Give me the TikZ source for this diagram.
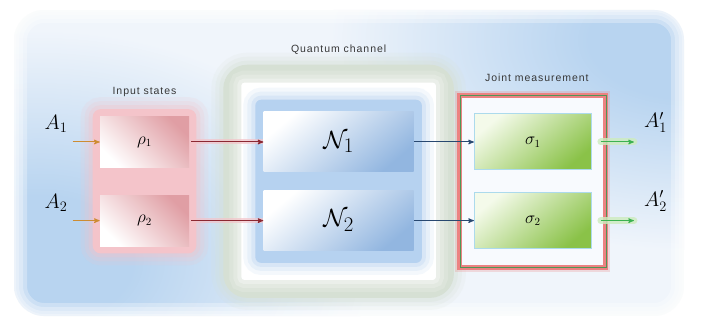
\documentclass[tikz,border=0pt]{standalone}
\usepackage{fontspec}
\newfontfamily\labelfont[LetterSpace=9]{Liberation Sans}
\usetikzlibrary{positioning, arrows, fit, backgrounds}

\definecolor{bgbase}{RGB}{240,245,251}
\definecolor{bgblue}{RGB}{184,212,240}
\definecolor{chgreen}{RGB}{214,224,212}
\definecolor{chblue}{RGB}{182,210,240}
\definecolor{nblue}{RGB}{146,182,224}
\definecolor{rhopink}{RGB}{224,158,164}
\definecolor{pinkglow}{RGB}{244,196,202}
\definecolor{sigmagreen}{RGB}{138,194,72}
\definecolor{sigmapale}{RGB}{244,250,234}
\definecolor{sigmaline}{RGB}{172,218,236}
\definecolor{framered}{RGB}{236,130,130}
\definecolor{framegreen}{RGB}{80,150,85}
\definecolor{arrowred}{RGB}{140,40,50}
\definecolor{arrowblue}{RGB}{40,72,112}
\definecolor{arrowgreen}{RGB}{60,178,80}
\definecolor{greenglow}{RGB}{205,236,190}
\definecolor{arroworange}{RGB}{205,140,50}
\definecolor{labelgray}{RGB}{55,55,55}

\pgfdeclareradialshading{blob}{\pgfpoint{0bp}{0bp}}{color(0bp)=(bgblue); color(7bp)=(bgblue);
    color(25bp)=(bgbase); color(50bp)=(bgbase)}

\begin{document}
\begin{tikzpicture}[x=1pt, y=-1pt, >=stealth', semithick, node distance=27pt,
        soft/.style={preaction={draw=#1, line width=24pt, opacity=.15},
                     preaction={draw=#1, line width=16pt, opacity=.2},
                     preaction={draw=#1, line width=8pt, opacity=.3}},
        rhobox/.style={shade, top color=rhopink, bottom color=white, shading angle=-45,
                       minimum width=89pt, minimum height=51pt, inner sep=0pt,
                       font=\fontsize{16}{16}\selectfont},
        chbox/.style={shade, top color=white, bottom color=nblue, shading angle=40,
                      minimum width=150pt, minimum height=60pt, inner sep=0pt,
                      font=\fontsize{30}{30}\selectfont},
        sigmabox/.style={shade, top color=sigmapale, bottom color=sigmagreen, shading angle=40,
                         draw=sigmaline, line width=1pt,
                         minimum width=117pt, minimum height=56pt, inner sep=0pt,
                         font=\fontsize{16}{16}\selectfont},
        heading/.style={text=labelgray, inner sep=0pt, font=\labelfont\fontsize{10.5}{12}\selectfont},
        port/.style={inner sep=0pt, font=\fontsize{21}{21}\selectfont},
        inarrow/.style={->, arroworange, line width=1pt},
        redarrow/.style={->, arrowred, line width=1pt,
                         preaction={draw=pinkglow, line width=5pt, opacity=.7, -}},
        bluearrow/.style={->, arrowblue, line width=1pt},
        greenarrow/.style={->, arrowgreen, line width=1pt,
                           preaction={draw=greenglow, line width=7pt, line cap=round, opacity=.8, -}}]

        \useasboundingbox (0,0) rectangle (701,323);

        \node[rhobox]                   (rho1)   at (144.5,142) {$\rho_1$};
        \node[rhobox, below=of rho1]    (rho2)   {$\rho_2$};
        \node[chbox, right=74pt of rho1]       (N1)     {$\mathcal{N}_1$};
        \node[chbox, right=74pt of rho2]       (N2)     {$\mathcal{N}_2$};
        \node[sigmabox, right=60pt of N1]      (sigma1) {$\sigma_1$};
        \node[sigmabox, right=60pt of N2]      (sigma2) {$\sigma_2$};

        \coordinate[left=27pt of rho1]    (in1);
        \coordinate[left=27pt of rho2]    (in2);
        \coordinate[right=42pt of sigma1] (out1);
        \coordinate[right=42pt of sigma2] (out2);

        \node[port, above left=9pt and 5pt of in1]    (A1)  {$A_1$};
        \node[port, above left=9pt and 5pt of in2]    (A2)  {$A_2$};
        \node[port, above right=9pt and 10pt of out1] (A1p) {$A_1'$};
        \node[port, above right=9pt and 10pt of out2] (A2p) {$A_2'$};

        \node[heading, above=19pt of rho1]   (inlabel) {Input states};
        \node[heading, above=57pt of N1]     (chlabel) {Quantum channel};

        \begin{scope}[on background layer]
            \begin{scope}
                \clip[rounded corners=30pt] (14,10) rectangle (684,316);
                \fill[bgbase] (14,10) rectangle (684,316);
                \shade[shading=blob] (40,260) ellipse (330pt and 230pt);
                \shade[shading=blob] (690,40) ellipse (360pt and 210pt);
            \end{scope}
            \draw[white, rounded corners=30pt,
                  preaction={draw=white, line width=26pt, opacity=.3},
                  preaction={draw=white, line width=18pt, opacity=.3},
                  preaction={draw=white, line width=10pt, opacity=.3},
                  line width=4pt, opacity=.3]
                (14,10) rectangle (684,316);
            \node[fit=(N1)(N2), inner xsep=40pt, inner ysep=47pt, rounded corners=24pt,
                  fill=chgreen, soft=chgreen]              (chouter) {};
            \node[fit=(N1)(N2), inner xsep=22pt, inner ysep=29pt, rounded corners=3pt,
                  fill=white, soft=white]                  (chwhite) {};
            \node[fit=(N1)(N2), inner xsep=8pt, inner ysep=12pt, rounded corners=6pt,
                  fill=chblue, soft=chblue]                (chinner) {};
            \node[fit=(rho1)(rho2), inner sep=7pt, rounded corners=8pt,
                  fill=pinkglow, soft=pinkglow]            (rhoglow) {};
            \node[fit=(sigma1)(sigma2), inner xsep=14pt, inner ysep=18pt,
                  fill=white!90!chblue, draw=framered, line width=5pt,
                  preaction={draw=framered, line width=9pt, opacity=.25},
                  postaction={draw=framegreen, line width=.7pt}] (joint) {};
        \end{scope}

        \node[heading, above=11pt of joint, xshift=4pt] (jtlabel) {Joint measurement};

        \draw[inarrow]    (in1) -- (rho1);
        \draw[inarrow]    (in2) -- (rho2);
        \draw[redarrow, shorten <=2pt]   (rho1) -- (N1);
        \draw[redarrow, shorten <=2pt]   (rho2) -- (N2);
        \draw[bluearrow]  (N1) -- (sigma1);
        \draw[bluearrow]  (N2) -- (sigma2);
        \draw[greenarrow, shorten <=9pt] (sigma1) -- (out1);
        \draw[greenarrow, shorten <=9pt] (sigma2) -- (out2);

    \end{tikzpicture}
\end{document}
